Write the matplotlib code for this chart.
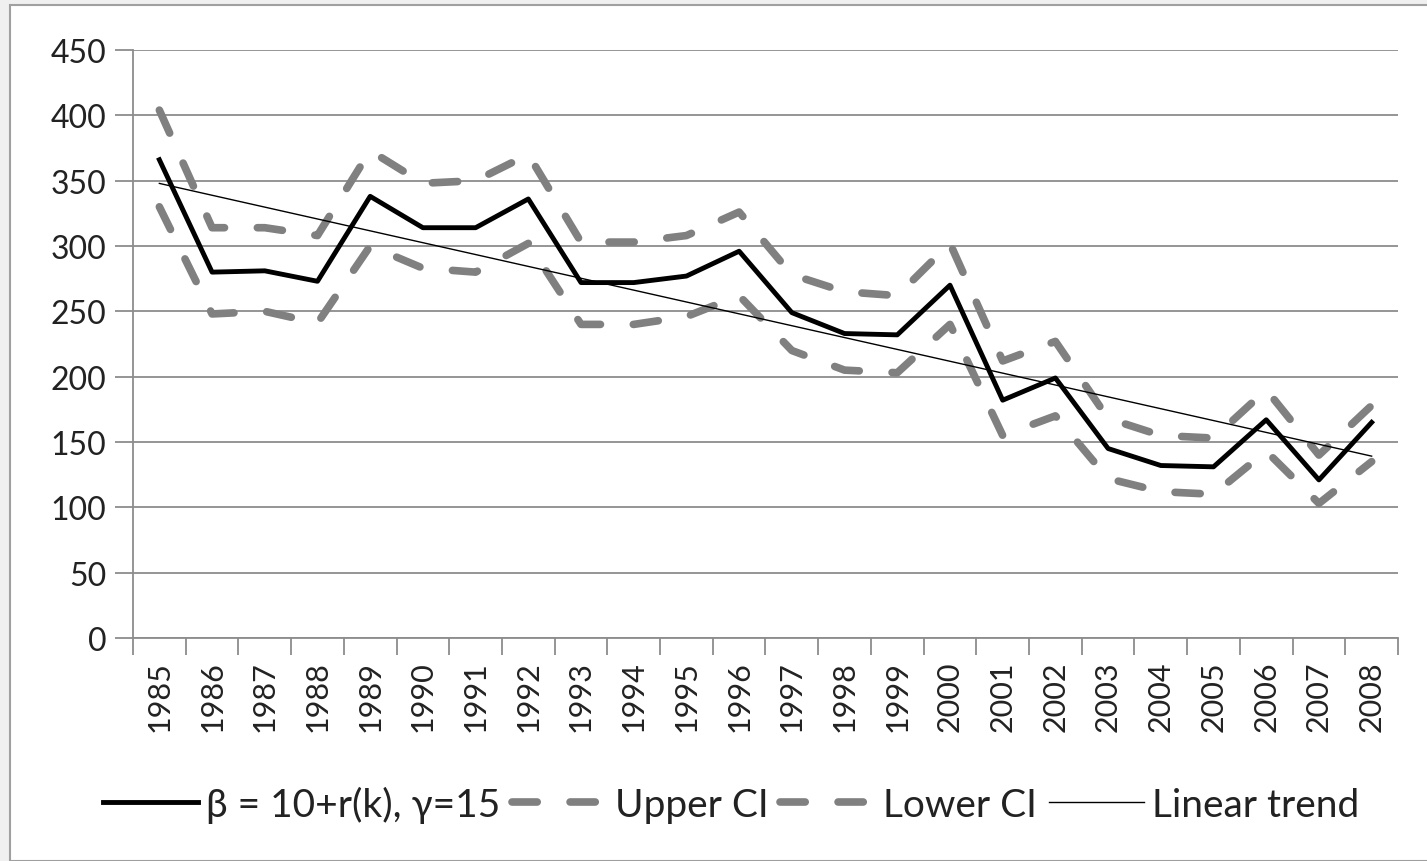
import matplotlib
matplotlib.use("Agg")
import matplotlib.pyplot as plt
import numpy as np
from matplotlib.patches import Rectangle
from matplotlib.lines import Line2D

plt.rcParams['font.family'] = ['Lato', 'DejaVu Sans']

years = [str(y) for y in range(1985, 2009)]
main = [366, 280, 281, 273, 338, 314, 314, 336, 272, 272, 277, 296,
        249, 233, 232, 270, 182, 199, 145, 132, 131, 167, 121, 165]
upper = [404, 314, 314, 308, 373, 348, 350, 370, 303, 303, 308, 326,
         278, 265, 262, 302, 212, 227, 168, 155, 153, 190, 140, 178]
lower = [330, 248, 250, 241, 300, 283, 280, 302, 240, 240, 246, 262,
         220, 205, 203, 240, 155, 170, 122, 112, 110, 143, 103, 135]
yticks = [0, 50, 100, 150, 200, 250, 300, 350, 400, 450]
labels = ['β = 10+r(k), γ=15', 'Upper CI', 'Lower CI', 'Linear trend']

W, H = 1427, 862
fig = plt.figure(figsize=(W/100, H/100), dpi=100, facecolor='#f0f0f0')
fig.patches.append(Rectangle((10/W, 0), 1, 1 - 6/H, transform=fig.transFigure,
                             facecolor='white', edgecolor='#a0a0a0', lw=1.5, zorder=-1))

ax = fig.add_axes([133/W, 1 - 639/H, (1398-133)/W, (639-51)/H])
ax.set_facecolor('none')
x = np.arange(len(years))

gray = '#808080'
DASH = (3.3, 4.3)
ax.plot(x, upper, color=gray, lw=5.5, dashes=DASH, solid_capstyle='round',
        dash_capstyle='round', zorder=3)
ax.plot(x, lower, color=gray, lw=5.5, dashes=DASH, solid_capstyle='round',
        dash_capstyle='round', zorder=3)
ax.plot(x, main, color='black', lw=3.5, zorder=4)
coef = np.polyfit(x, main, 1)
trend = np.polyval(coef, x)
ax.plot(x, trend, color='black', lw=1.0, zorder=5)

txt = '#222222'
ax.set_xlim(-0.5, len(years) - 0.5)
ax.set_ylim(0, 450)
ax.set_yticks(yticks)
ax.set_yticklabels([str(v) for v in yticks], fontsize=23, color=txt)
ax.yaxis.grid(True, color='#8c8c8c', lw=1.3)
ax.set_axisbelow(True)
ax.set_xticks(x)
ax.set_xticklabels(years, rotation=90, fontsize=22, color=txt)
ax.set_xticks(np.arange(-0.5, len(years)), minor=True)
ax.tick_params(axis='x', which='major', length=0, pad=16)
ax.tick_params(axis='x', which='minor', length=12, width=1.3, color='#8c8c8c')
ax.tick_params(axis='y', length=13, width=1.3, color='#8c8c8c', pad=6)
for s in ['top', 'right']:
    ax.spines[s].set_visible(False)
for s in ['left', 'bottom']:
    ax.spines[s].set_color('#8c8c8c')
    ax.spines[s].set_linewidth(1.3)

handles = [Line2D([], [], color='black', lw=3.5),
           Line2D([], [], color=gray, lw=5.5, dashes=DASH, dash_capstyle='round'),
           Line2D([], [], color=gray, lw=5.5, dashes=DASH, dash_capstyle='round'),
           Line2D([], [], color='black', lw=1.0)]
leg = fig.legend(handles, labels, loc='center', bbox_to_anchor=(731/W, 1 - 805/H),
                 ncol=4, frameon=False, fontsize=28, handlelength=2.45,
                 columnspacing=0.3, handletextpad=0.2)
for t in leg.get_texts():
    t.set_color(txt)

fig.savefig('out.png', dpi=100, facecolor=fig.get_facecolor())
